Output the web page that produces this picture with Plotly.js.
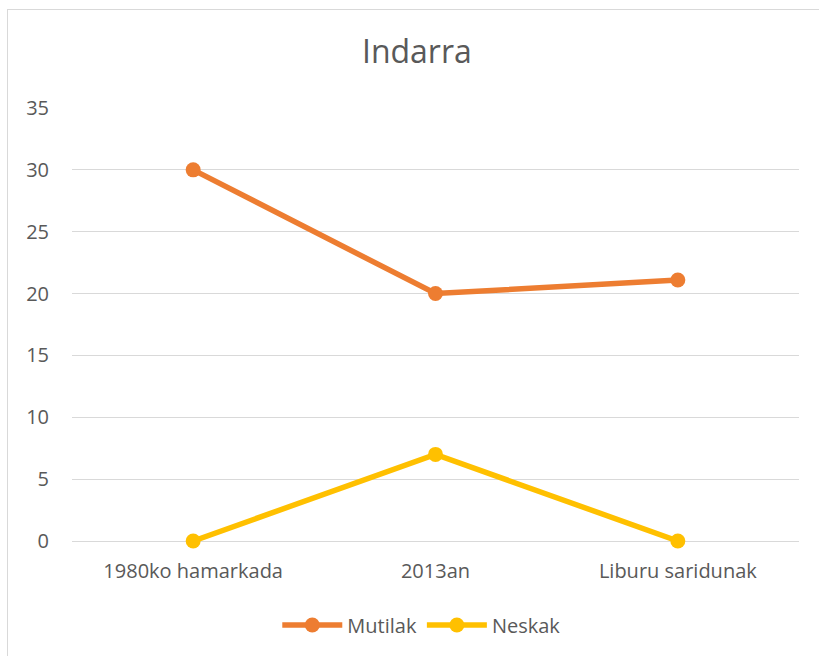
<!DOCTYPE html>
<html><head><meta charset="utf-8">
<script src="https://cdn.plot.ly/plotly-3.0.1.min.js"></script>
<style>html,body{margin:0;padding:0;background:#fff;}#wrap{position:relative;width:819px;height:656px;overflow:hidden;}#chart{width:819px;height:656px;}#frame{position:absolute;left:7px;top:9px;width:830px;height:670px;border:1px solid #d9d9d9;pointer-events:none;}</style>
</head><body>
<div id="wrap"><div id="chart"></div><div id="frame"></div></div>
<script>
const categories = ["1980ko hamarkada", "2013an", "Liburu saridunak"];
const mutilak = [30, 20, 21.1];
const neskak = [0, 7, 0];
const yTicks = [0, 5, 10, 15, 20, 25, 30, 35];

const font = "'Open Sans', sans-serif";
const txt = "#595959";
const data = [
  {x: categories, y: mutilak, name: "Mutilak", type: "scatter", mode: "lines+markers", cliponaxis: false,
   line: {color: "#ED7D31", width: 5.5}, marker: {color: "#ED7D31", size: 15}},
  {x: categories, y: neskak, name: "Neskak", type: "scatter", mode: "lines+markers", cliponaxis: false,
   line: {color: "#FFC000", width: 5.5}, marker: {color: "#FFC000", size: 15}}
];
const layout = {
  width: 819, height: 656,
  margin: {l: 72, r: 20, t: 108, b: 115},
  paper_bgcolor: "#fff", plot_bgcolor: "#fff",
  font: {family: font, color: txt, size: 20},
  title: {text: "Indarra", font: {family: font, size: 32, color: txt}, xref: "container", x: 0.509, xanchor: "center", yref: "container", y: 1 - 52/656, yanchor: "middle"},
  xaxis: {type: "category", range: [-0.5, 2.5], showgrid: false, zeroline: false, showline: false, ticks: "", ticklabelstandoff: 16, tickfont: {size: 20, color: txt}},
  yaxis: {range: [0, 35], tickvals: yTicks, showgrid: true, gridcolor: "#d9d9d9", gridwidth: 1, zeroline: true, zerolinecolor: "#d9d9d9", zerolinewidth: 1, showline: false, ticks: "", ticklabelstandoff: 22, tickfont: {size: 20, color: txt}},
  showlegend: true,
  legend: {orientation: "h", xref: "container", x: 0.515, xanchor: "center", yref: "container", y: 1 - 625/656, yanchor: "middle", font: {size: 20, color: txt}, itemwidth: 60}
};
Plotly.newPlot("chart", data, layout, {displayModeBar: false});
</script>
</body></html>
